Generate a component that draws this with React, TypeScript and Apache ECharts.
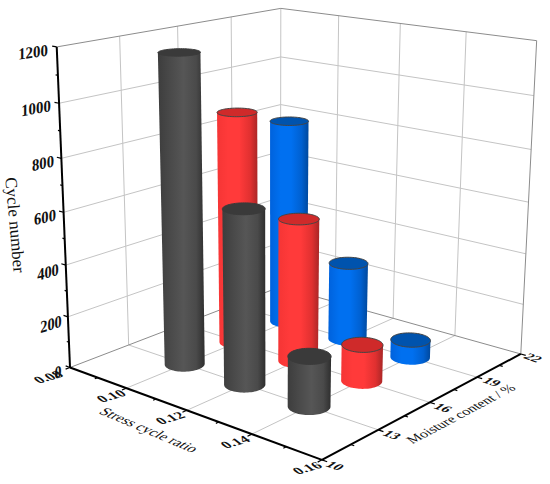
import React, { useEffect, useRef } from "react";
import * as echarts from "echarts";

const stressTicks = ["0.08", "0.10", "0.12", "0.14", "0.16"];
const moistureTicks = ["10", "13", "16", "19", "22"];
const cycleTicks = ["0", "200", "400", "600", "800", "1000", "1200"];
const stressLevels = [0.1, 0.12, 0.14];
const moisture13 = [1175, 660, 187];
const moisture16 = [910, 555, 140];
const moisture19 = [825, 310, 70];

const STRESS_MIN = 0.08, STRESS_MAX = 0.16, M_MIN = 10, M_MAX = 22, C_MAX = 1200;

// camera calibration: box position -> picture position
const calib: number[][] = [
  [0, 0, 0, 70, 368], [1, 0, 0, 322, 460], [1, 1, 0, 522, 354.5], [0, 1, 0, 280, 286],
  [0, 0, 1, 57, 46], [0, 1, 1, 281, 9], [1, 1, 1, 536.5, 40.5],
  [0.5, 0, 0, 188, 410], [1, 0.5, 0, 428, 402], [0, 0, 0.5, 63, 213],
];
function solve(A: number[][], b: number[]) {
  const n = b.length;
  const M = A.map((r, i) => [...r, b[i]]);
  for (let c = 0; c < n; c++) {
    let p = c;
    for (let r = c + 1; r < n; r++) if (Math.abs(M[r][c]) > Math.abs(M[p][c])) p = r;
    [M[c], M[p]] = [M[p], M[c]];
    for (let r = 0; r < n; r++) {
      if (r === c) continue;
      const f = M[r][c] / M[c][c];
      for (let k = c; k <= n; k++) M[r][k] -= f * M[c][k];
    }
  }
  return M.map((r, i) => r[n] / r[i]);
}
function camera() {
  const rows: number[][] = [], rhs: number[] = [];
  calib.forEach(([X, Y, Z, x, y]) => {
    rows.push([X, Y, Z, 1, 0, 0, 0, 0, -x * X, -x * Y, -x * Z]); rhs.push(x);
    rows.push([0, 0, 0, 0, X, Y, Z, 1, -y * X, -y * Y, -y * Z]); rhs.push(y);
  });
  const N = 11;
  const A = Array.from({ length: N }, (_, i) => Array.from({ length: N }, (_, j) => rows.reduce((s, r) => s + r[i] * r[j], 0)));
  const b = Array.from({ length: N }, (_, i) => rows.reduce((s, r, k) => s + r[i] * rhs[k], 0));
  return solve(A, b);
}
const P = camera();
const project = (u: number, v: number, w: number) => {
  const d = P[8] * u + P[9] * v + P[10] * w + 1;
  return [(P[0] * u + P[1] * v + P[2] * w + P[3]) / d, (P[4] * u + P[5] * v + P[6] * w + P[7]) / d];
};

const THEMES = [
  { stops: ["#3d3d3d", "#4a4a4a", "#565656", "#4a4a4a", "#2e2e2e"], top: "#3a3a3a", edge: "#3a3a3a" },
  { stops: ["#f53535", "#ff3a3a", "#ff3a3a", "#e03030", "#a82626"], top: "#cf2a2a", edge: "#444444" },
  { stops: ["#0062dc", "#0070f0", "#0070f0", "#0060d0", "#00489c"], top: "#0053ad", edge: "#444444" },
];
const RADIUS = 0.062;

type Bar = [number, number, number, number];
const groups = [moisture13, moisture16, moisture19];
const groupM = [13, 16, 19];
const bars: Bar[] = [];
groups.forEach((vals, g) => vals.forEach((val, i) => bars.push([stressLevels[i], groupM[g], val, g])));
const depth = (b: Bar) => (b[0] - STRESS_MIN) / (STRESS_MAX - STRESS_MIN) - (b[1] - M_MIN) / (M_MAX - M_MIN);
bars.sort((a, b) => depth(a) - depth(b));

type Seg = [number, number, number, number, number, number, number];
// kinds: 0 light grid, 1 box edge, 2 axis, 3 tick
const segs: Seg[] = [];
const push = (a: number[], b: number[], k: number) => segs.push([a[0], a[1], a[2], b[0], b[1], b[2], k]);
[0.25, 0.5, 0.75].forEach((t) => {
  push([t, 0, 0], [t, 1, 0], 0); // floor
  push([0, t, 0], [1, t, 0], 0);
  push([0, t, 0], [0, t, 1], 0); // left wall
  push([t, 1, 0], [t, 1, 1], 0); // back wall
});
for (let i = 1; i < 6; i++) {
  const w = (i * 200) / C_MAX;
  push([0, 0, w], [0, 1, w], 0);
  push([0, 1, w], [1, 1, w], 0);
}
push([0, 0, 0], [0, 1, 0], 1);
push([0, 1, 0], [1, 1, 0], 1);
push([0, 1, 0], [0, 1, 1], 0);
push([1, 1, 0], [1, 1, 1], 1);
push([0, 0, 1], [0, 1, 1], 1);
push([0, 1, 1], [1, 1, 1], 1);
push([0, 0, 0], [0, 0, 1], 2);
push([0, 0, 0], [1, 0, 0], 2);
push([1, 0, 0], [1, 1, 0], 2);
for (let i = 0; i <= 12; i++) {
  const t = i / 12;
  if (i % 2 === 0) push([0, 0, t], [-0.02, 0, t], 3);
  else push([0, 0, t], [-0.01, 0, t], 3);
}
for (let i = 0; i <= 8; i++) {
  const t = i / 8;
  push([t, 0, 0], [t, -(i % 2 === 0 ? 0.018 : 0.012), 0], 3);
}
for (let i = 0; i <= 8; i++) {
  const t = i / 8;
  push([1, t, 0], [1 + (i % 2 === 0 ? 0.018 : 0.012), t, 0], 3);
}

const deg = Math.PI / 180;
type Lab = { text: string; x: number; y: number; rot: number; font: string; skew: number; sy: number };
const tickFont = "bold 15px 'Liberation Serif'";
const labelPos = {
  cycle: [[58, 372, 20], [51, 324, 17], [48, 272, 15], [45, 217, 13], [43, 163, 12], [36, 108, 10], [33, 52, 8]],
  stress: [[48, 377, 17], [111, 396, 17], [170, 418, 17], [235, 442, 17], [307, 468, 17]],
  moisture: [[335, 466, -20], [392, 435, -20], [443, 408, -20], [492, 382, -20], [533, 358, -20]],
};
const labels: Lab[] = [
  ...cycleTicks.map((t, i) => ({ text: t, x: labelPos.cycle[i][0], y: labelPos.cycle[i][1], rot: labelPos.cycle[i][2], font: "bold 15px 'Liberation Serif'", skew: -labelPos.cycle[i][2], sy: 1.1 })),
  ...stressTicks.map((t, i) => ({ text: t, x: labelPos.stress[i][0], y: labelPos.stress[i][1], rot: labelPos.stress[i][2], font: tickFont, skew: 35, sy: 0.75 })),
  ...moistureTicks.map((t, i) => ({ text: t, x: labelPos.moisture[i][0], y: labelPos.moisture[i][1], rot: labelPos.moisture[i][2], font: tickFont, skew: -35, sy: 0.7 })),
  { text: "Cycle number", x: 15, y: 225, rot: -85, font: "17px 'Liberation Serif'", skew: 0, sy: 1 },
  { text: "Stress cycle ratio", x: 149, y: 430, rot: -23, font: "15px 'Liberation Serif'", skew: -30, sy: 0.85 },
  { text: "Moisture content / %", x: 461, y: 414, rot: 28, font: "14px 'Liberation Serif'", skew: 25, sy: 0.9 },
];

const LINE = [
  { stroke: "#c4c4c4", lineWidth: 1 },
  { stroke: "#8c8c8c", lineWidth: 1 },
  { stroke: "#000000", lineWidth: 2 },
  { stroke: "#000000", lineWidth: 1.2 },
];

const renderSeg = (_: any, api: any) => {
  const a = project(api.value(0), api.value(1), api.value(2));
  const b = project(api.value(3), api.value(4), api.value(5));
  const k = api.value(6);
  const p = api.coord(a), q = api.coord(b);
  return { type: "line", shape: { x1: p[0], y1: p[1], x2: q[0], y2: q[1] }, style: LINE[k] };
};

const renderBar = (_: any, api: any) => {
  const u = (api.value(0) - STRESS_MIN) / (STRESS_MAX - STRESS_MIN);
  const v = (api.value(1) - M_MIN) / (M_MAX - M_MIN);
  const w = api.value(2) / C_MAX;
  const theme = THEMES[api.value(3)];
  const ring = (h: number) => {
    const pts: number[][] = [];
    for (let i = 0; i < 72; i++) {
      const a = (i / 72) * 2 * Math.PI;
      pts.push(api.coord(project(u + RADIUS * Math.cos(a), v + RADIUS * Math.sin(a), h)));
    }
    return pts;
  };
  const bottom = ring(0), top = ring(w);
  const extreme = (pts: number[][], sign: number) => pts.reduce((best, p, i) => (p[0] * sign > pts[best][0] * sign ? i : best), 0);
  const lo = extreme(bottom, -1), hi = extreme(bottom, 1);
  const walk = (dir: number) => {
    const out: number[][] = [];
    for (let i = lo; ; i = (i + dir + 72) % 72) { out.push(bottom[i]); if (i === hi) break; }
    return out;
  };
  const a1 = walk(1), a2 = walk(-1);
  const avg = (arr: number[][]) => arr.reduce((s, p) => s + p[1], 0) / arr.length;
  const near = avg(a1) > avg(a2) ? a1 : a2;
  const tl = top[extreme(top, -1)], tr = top[extreme(top, 1)];
  const body = [...near, tr, tl];
  const n = theme.stops.length;
  return {
    type: "group",
    children: [
      {
        type: "polygon",
        shape: { points: body },
        style: {
          fill: {
            type: "linear", x: 0, y: 0, x2: 1, y2: 0,
            colorStops: theme.stops.map((c, i) => ({ offset: i === n - 1 ? 1 : i === n - 2 ? 0.82 : (i / (n - 2)) * 0.82, color: c })),
          },
          stroke: null,
        },
      },
      { type: "polygon", shape: { points: top }, style: { fill: theme.top, stroke: theme.edge, lineWidth: 1 } },
    ],
  };
};

const renderLabel = (_: any, api: any) => {
  const l = labels[api.value(0)];
  const p = api.coord([l.x, l.y]);
  return {
    type: "text",
    x: p[0], y: p[1],
    rotation: l.rot * deg,
    skewX: l.skew * deg,
    scaleY: l.sy,
    style: { text: l.text, font: l.font, fill: "#111", textAlign: "center", textVerticalAlign: "middle" },
  };
};

export default function App() {
  const ref = useRef<HTMLDivElement>(null);
  useEffect(() => {
    document.body.style.margin = "0";
    const chart = echarts.init(ref.current!, undefined, { renderer: "svg" });
    chart.setOption({
      animation: false,
      backgroundColor: "#ffffff",
      grid: { left: 0, right: 0, top: 0, bottom: 0 },
      xAxis: { type: "value", min: 0, max: 550, show: false },
      yAxis: { type: "value", min: 0, max: 484, inverse: true, show: false },
      series: [
        { type: "custom", name: "frame", coordinateSystem: "cartesian2d", renderItem: renderSeg, data: segs, silent: true, z: 1, clip: false },
        { type: "custom", name: "Cycle number", coordinateSystem: "cartesian2d", renderItem: renderBar, data: bars, z: 2, clip: false },
        { type: "custom", name: "labels", coordinateSystem: "cartesian2d", renderItem: renderLabel, data: labels.map((_, i) => [i]), silent: true, z: 3, clip: false },
      ],
    });
    return () => chart.dispose();
  }, []);
  return <div ref={ref} style={{ position: "absolute", left: 0, top: 0, width: 550, height: 484 }} />;
}
